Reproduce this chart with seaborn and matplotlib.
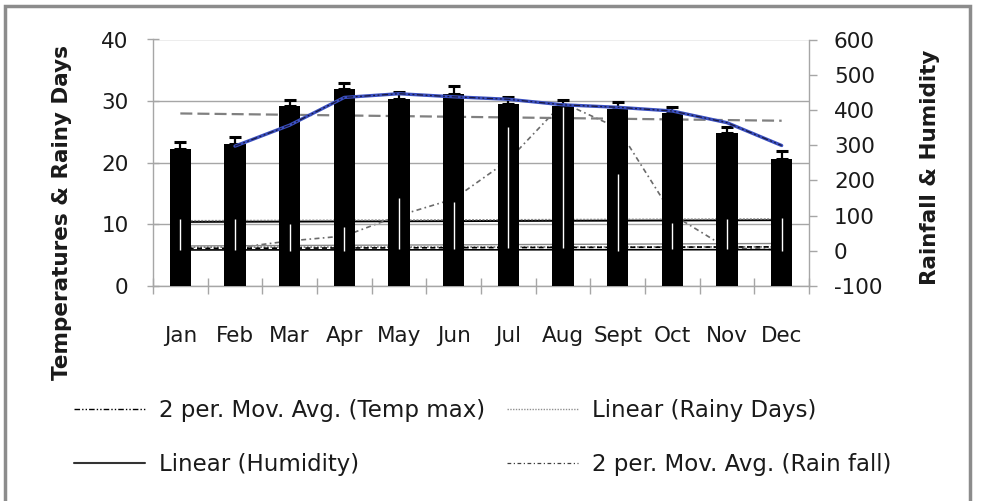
import numpy as np
import pandas as pd
import matplotlib
matplotlib.use("Agg")
import matplotlib.pyplot as plt
from matplotlib.lines import Line2D
from matplotlib.patches import Rectangle
import seaborn as sns

# ---------------- data ----------------
months = ["Jan", "Feb", "Mar", "Apr", "May", "Jun", "Jul", "Aug", "Sept", "Oct", "Nov", "Dec"]
temp_max = [22.3, 23.0, 29.2, 32.0, 30.3, 31.1, 29.5, 29.2, 28.7, 28.1, 24.9, 20.6]
temp_max_err = [1.0, 1.2, 1.0, 1.0, 1.1, 1.3, 1.2, 1.0, 1.1, 1.0, 0.9, 1.3]
# 2-period moving averages start in Feb
temp_max_mov_avg = [22.7, 26.1, 30.6, 31.2, 30.7, 30.3, 29.4, 29.0, 28.4, 26.5, 22.8]
rain_mov_avg = [8, 28, 42, 100, 147, 257, 420, 349, 103, 8, 3]          # right axis
# white whiskers seen inside the bars (left-axis units)
whisker_low = [5.8, 5.8, 5.7, 5.7, 6.0, 6.0, 6.2, 6.2, 5.7, 6.0, 6.0, 5.7]
whisker_high = [10.9, 10.9, 10.1, 9.5, 14.2, 13.6, 25.8, 29.0, 18.2, 10.3, 10.9, 11.1]
# linear trend lines: value at Jan and at Dec
humidity_trend = [82, 87]        # right axis
rainy_days_trend = [6.3, 6.35]   # left axis
upper_gray_trend = [10.6, 10.9]
lower_gray_trend = [6.5, 6.9]
lower_dashed_trend = [6.1, 6.35]
lower_solid_trend = [5.85, 5.9]

left_ticks = [0, 10, 20, 30, 40]
right_ticks = [-100, 0, 100, 200, 300, 400, 500, 600]
legend_labels = ["2 per. Mov. Avg. (Temp max)", "Linear (Humidity)",
                 "Linear (Rainy Days)", "2 per. Mov. Avg. (Rain fall)"]

# ---------------- style ----------------
sns.set_theme(style="white")
plt.rcParams["font.family"] = ["DejaVu Sans"]
plt.rcParams["axes.unicode_minus"] = False
TXT = "#1a1a1a"
GRID = "#a6a6a6"

W, H = 987, 501
fig = plt.figure(figsize=(W / 100, H / 100), dpi=100)
fig.patch.set_facecolor("white")
L, R, B, T = 153, 809, 286, 39.5
ax = fig.add_axes([L / W, 1 - B / H, (R - L) / W, (B - T) / H])
ax2 = ax.twinx()
ax2.set_zorder(1)
ax.set_zorder(2)
ax.patch.set_visible(False)

x = np.arange(len(months))
df = pd.DataFrame({"month": months, "temp": temp_max})

# bars
sns.barplot(data=df, x="month", y="temp", color="black", saturation=1,
            width=0.39, errorbar=None, linewidth=0, ax=ax, zorder=3)
ax.errorbar(x, temp_max, yerr=[np.zeros(len(x)), temp_max_err], fmt="none",
            ecolor="black", elinewidth=1.6, capsize=4.3, capthick=2.2, zorder=4)
ax.vlines(x, whisker_low, whisker_high, colors="white", lw=1.0, zorder=4.5)

# left-axis trend lines (below bars)
coef = np.polyfit(x, temp_max, 1)
ends = x[[0, -1]]
ax.plot(ends, np.polyval(coef, ends), color="#808080", lw=1.6, dashes=(5.4, 2.3), zorder=2)
ax.plot(ends, upper_gray_trend, color="#8a8a8a", lw=1.0, dashes=(1.5, 1), zorder=2)
ax.plot(ends, lower_gray_trend, color="#8a8a8a", lw=1.0, zorder=2)
ax.plot(ends, rainy_days_trend, color="#777777", lw=1.2, dashes=(1, 1), zorder=2)
ax.plot(ends, lower_dashed_trend, color="black", lw=1.2, dashes=(3, 2), zorder=2)
ax.plot(ends, lower_solid_trend, color="black", lw=1.2, zorder=2)

# right-axis series
ax2.plot(ends, humidity_trend, color="black", lw=1.4, zorder=2)
ax2.plot(x[1:], rain_mov_avg, color="#6a6a6a", lw=1.2, dashes=(3, 2, 1, 2), zorder=2)

# moving average of temp max (blue) with dark dash overlay
sns.lineplot(x=x[1:], y=temp_max_mov_avg, color="#3a4fc0", lw=2.4, ax=ax, zorder=6)
ax.plot(x[1:], temp_max_mov_avg, color="#1a1a40", lw=0.9, dashes=(5, 2, 1.5, 2, 1.5, 2), zorder=7)

# axes cosmetics
ax.set_xlim(-0.5, len(months) - 0.5)
ax.set_ylim(0, 40)
ax.set_yticks(left_ticks)
ax2.set_ylim(-100, 600)
ax2.set_yticks(right_ticks)
ax.set_xticks(x)
ax.set_xticklabels(months)
ax.set_xticks(np.arange(-0.5, len(months), 1), minor=True)
ax.set_xlabel("")
ax.set_ylabel("")
ax.yaxis.grid(True, color=GRID, lw=1)
ax.xaxis.grid(False)
ax.set_axisbelow(True)

ax.tick_params(axis="y", which="major", direction="inout", length=9, width=1, color=GRID,
               labelsize=15.5, labelcolor=TXT, pad=13, left=True)
ax.tick_params(axis="x", which="major", length=0, labelsize=15.5, labelcolor=TXT, pad=29)
ax.tick_params(axis="x", which="minor", direction="inout", length=12, width=1, color=GRID, bottom=True)
ax2.tick_params(axis="y", direction="out", length=6, width=1, color=GRID,
                labelsize=15.5, labelcolor=TXT, pad=12, right=True)

for s in ["top", "right"]:
    ax.spines[s].set_visible(False)
for s in ["left", "bottom"]:
    ax.spines[s].set_color(GRID)
    ax.spines[s].set_linewidth(1)
for s in ["top", "left", "bottom"]:
    ax2.spines[s].set_visible(False)
ax2.spines["right"].set_color(GRID)
ax2.spines["right"].set_linewidth(1)

# axis titles
fig.text(62 / W, 1 - 213 / H, "Temperatures & Rainy Days", rotation=90, ha="center",
         va="center", fontsize=15.5, fontweight="bold", color=TXT)
fig.text(930 / W, 1 - 167 / H, "Rainfall & Humidity", rotation=90, ha="center",
         va="center", fontsize=15.5, fontweight="bold", color=TXT)

# legend
h_tma = Line2D([], [], color="black", lw=1.0, dashes=(4, 1.5, 1, 1.5, 1, 1.5))
h_hum = Line2D([], [], color="#333333", lw=1.5)
h_rd = Line2D([], [], color="#909090", lw=1.0, dashes=(1, 1))
h_rma = Line2D([], [], color="#404040", lw=0.9, dashes=(3, 2, 1, 2))
common = dict(loc="center left", frameon=False, fontsize=16.5, handlelength=3.1,
              handletextpad=0.6, labelspacing=1.35, borderpad=0, borderaxespad=0,
              labelcolor=TXT)
fig.legend([h_tma, h_hum], legend_labels[:2], bbox_to_anchor=(74 / W, 1 - 437.5 / H), **common)
fig.legend([h_rd, h_rma], legend_labels[2:], bbox_to_anchor=(507 / W, 1 - 437.5 / H), **common)

# chart frame
fig.patches.append(Rectangle((5 / W, -0.1), (970 - 5) / W, 1.1 - 6 / H, transform=fig.transFigure,
                             fill=False, edgecolor="#8c8c8c", lw=2.5, zorder=10))

fig.savefig("out.png", dpi=100)
